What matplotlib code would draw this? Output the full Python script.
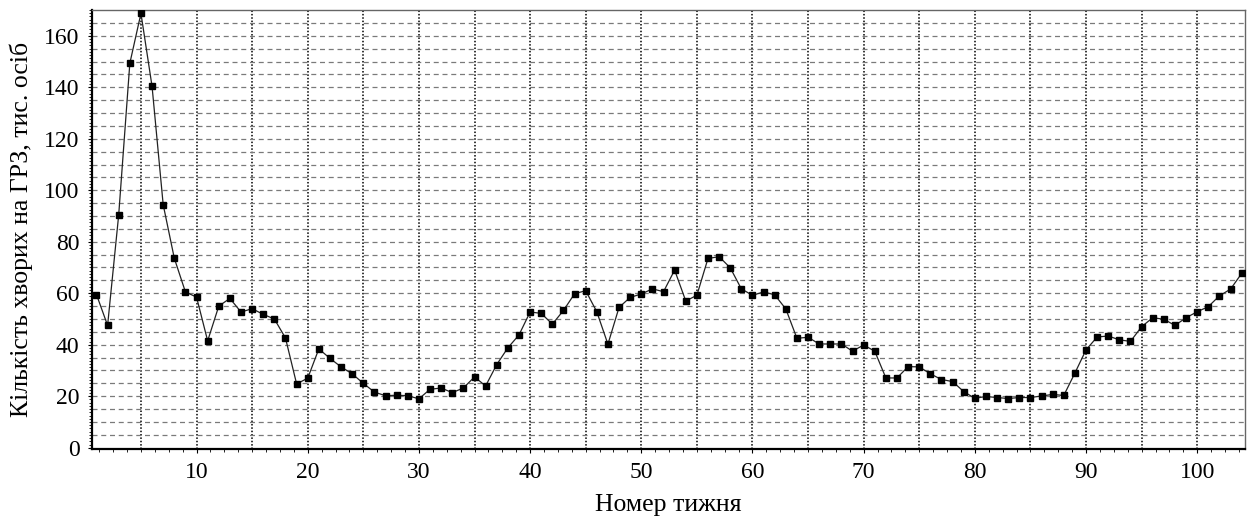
import matplotlib
matplotlib.use("Agg")
import matplotlib.pyplot as plt
from matplotlib.ticker import MultipleLocator

weeks = list(range(1, 105))
cases = [
    59.5, 47.5, 90.5, 149.3, 168.7, 140.3, 94.4, 73.6, 60.5, 58.5,
    41.5, 55.0, 58.0, 52.7, 54.0, 51.8, 50.0, 42.6, 24.8, 27.0,
    38.4, 34.7, 31.4, 28.7, 25.0, 21.6, 20.2, 20.4, 20.2, 19.0,
    22.7, 23.2, 21.4, 23.2, 27.5, 24.0, 32.3, 38.8, 43.8, 52.7,
    52.2, 48.0, 53.3, 59.8, 61.0, 52.8, 40.2, 54.5, 58.4, 59.7,
    61.7, 60.6, 69.0, 57.0, 59.2, 73.5, 74.2, 69.9, 61.7, 59.2,
    60.5, 59.4, 53.9, 42.5, 42.9, 40.3, 40.3, 40.3, 37.5, 39.9,
    37.5, 27.1, 27.1, 31.5, 31.4, 28.7, 26.5, 25.7, 21.8, 19.2,
    19.9, 19.5, 19.1, 19.5, 19.5, 20.1, 20.7, 20.3, 29.0, 38.0,
    43.0, 43.4, 41.9, 41.3, 47.0, 50.5, 49.9, 47.5, 50.5, 52.8,
    54.8, 59.0, 61.6, 67.7,
]
xlabel = "Номер тижня"
ylabel = "Кількість хворих на ГРЗ, тис. осіб"

plt.rcParams['font.family'] = ['Liberation Serif', 'DejaVu Serif']

fig = plt.figure(figsize=(12.47, 5.16), dpi=100)
ax = fig.add_axes([0.0738, 0.1298, 0.9246, 0.8508])

ax.plot(weeks, cases, color='#222222', lw=0.9, marker='s', ms=5,
        mfc='black', mec='black', zorder=3)

ax.set_xlim(0.6, 104.3)
ax.set_ylim(-0.5, 170)

ax.xaxis.set_major_locator(MultipleLocator(10))
ax.xaxis.set_minor_locator(MultipleLocator(1.25))
ax.yaxis.set_major_locator(MultipleLocator(20))
ax.yaxis.set_minor_locator(MultipleLocator(1.25))

# grid lines every 5 units
for xv in range(5, 105, 5):
    ax.axvline(xv, color='black', lw=1.1, ls=(0, (1.0, 1.2)), zorder=1)
for yv in range(5, 170, 5):
    ax.axhline(yv, color='#7a7a7a', lw=0.9, ls=(0, (4, 3)), zorder=1)

ax.tick_params(axis='both', which='major', labelsize=17, length=3,
               width=0.8, direction='out')
ax.tick_params(axis='y', which='major', pad=6)
ax.tick_params(axis='x', which='major', pad=6)
ax.tick_params(axis='both', which='minor', length=2.5, width=0.6,
               direction='out')

for side in ['top', 'right']:
    ax.spines[side].set_color('#666666')
    ax.spines[side].set_linewidth(1.0)
ax.spines['left'].set_linewidth(1.6)
ax.spines['bottom'].set_linewidth(1.6)

ax.set_xlabel(xlabel, fontsize=18.5, labelpad=8)
ax.set_ylabel(ylabel, fontsize=18.5, labelpad=8)

fig.savefig('out.png', dpi=100)
